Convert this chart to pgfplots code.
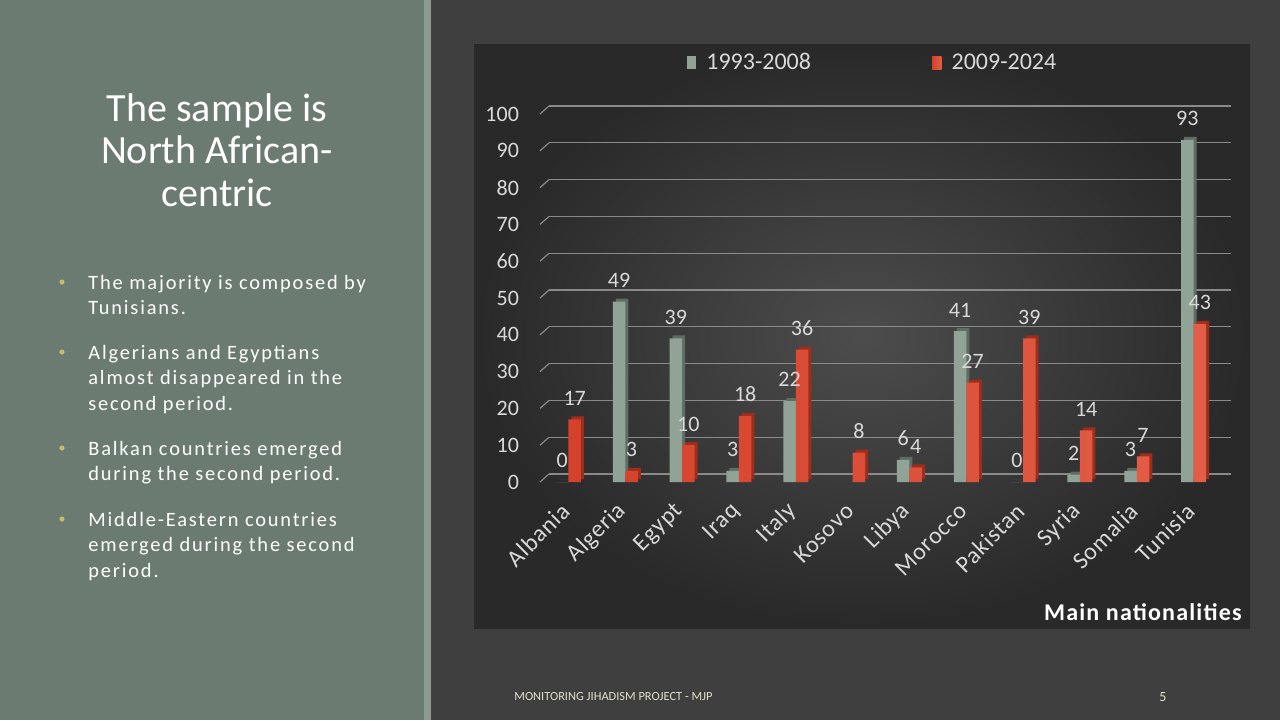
\documentclass[border=0pt]{standalone}
\usepackage{fontspec}
\setmainfont{Carlito}
\usepackage{pgfplots}
\pgfplotsset{compat=1.18}
\definecolor{panel}{HTML}{6B7B71}
\definecolor{strip}{HTML}{8C9B91}
\definecolor{slide}{HTML}{3F3F3F}
\definecolor{gbar}{HTML}{90A396}
\definecolor{gside}{HTML}{5F6E64}
\definecolor{rbar}{HTML}{D5412A}
\definecolor{rbarl}{HTML}{E25E48}
\definecolor{rside}{HTML}{9E2D1B}
\definecolor{txt}{HTML}{D9D9D9}
\definecolor{bulletc}{HTML}{C2BD6C}
\definecolor{gridc}{HTML}{8A8A8A}
\definecolor{foot}{HTML}{E4E2C8}
\begin{document}
\begin{tikzpicture}[x=0.5pt,y=0.5pt]
\fill[slide] (0,0) rectangle (1280,-720);
\fill[panel] (0,0) rectangle (424,-720);
\fill[strip] (424,0) rectangle (431,-720);
\shade[inner color=black!70, outer color=black!84] (474,-44) rectangle (1250,-628);
% title
\node[align=center, text=white, font=\fontsize{20}{21.25}\selectfont] at (217,-150) {The sample is\\North African-\\centric};
% bullets
\foreach \yy in {282,352,448,519} {\fill[bulletc] (62,-\yy) circle (2.6);}
\begin{scope}[every node/.style={anchor=north west, inner sep=0pt, text=white, align=left, font=\fontsize{10.2}{12.7}\selectfont\addfontfeature{LetterSpace=9}}]
\node at (88,-275) {The majority is composed by\\Tunisians.};
\node at (88,-345) {Algerians and Egyptians\\almost disappeared in the\\second period.};
\node at (88,-441) {Balkan countries emerged\\during the second period.};
\node at (88,-512) {Middle-Eastern countries\\emerged during the second\\period.};
\end{scope}
\node[anchor=east, inner sep=0pt, text=white, font=\bfseries\fontsize{12}{13}\selectfont\addfontfeature{LetterSpace=5}] at (1242,-612) {Main nationalities};
\node[anchor=west, inner sep=0pt, text=foot, font=\fontsize{6.2}{8}\selectfont] at (514,-697) {MONITORING JIHADISM PROJECT - MJP};
\node[text=foot, font=\fontsize{7}{8}\selectfont] at (1163,-697) {5};
\begin{axis}[
  at={(270pt,-241pt)}, anchor=south west, scale only axis,
  width=341pt, height=184pt,
  xmin=-0.5, xmax=11.5, ymin=0, ymax=100,
  ytick={0,10,...,100}, xtick={0,...,11},
  xticklabels={Albania,Algeria,Egypt,Iraq,Italy,Kosovo,Libya,Morocco,Pakistan,Syria,Somalia,Tunisia},
  ymajorgrids, major grid style={gridc, line width=0.6pt, xshift=4.5pt, yshift=4pt},
  axis line style={draw=none}, major tick length=0pt,
  /pgf/number format/assume math mode=true,
  tick label style={text=txt, font=\fontsize{11}{13}\selectfont},
  yticklabel style={xshift=-7pt},
  xticklabel style={rotate=45, anchor=east, xshift=-6.5pt, yshift=-8pt, font=\fontsize{12}{13}\selectfont\addfontfeature{LetterSpace=3}},
  ybar, bar width=6.25pt,
  clip=false,
  every node near coord/.append style={text=txt, font=\fontsize{11}{13}\selectfont, yshift=3.5pt},
  legend style={at={(0.489,1.139)}, anchor=center, draw=none, fill=none, legend columns=2,
     text=txt, font=\fontsize{12}{13}\selectfont,
     /tikz/every odd column/.append style={column sep=3pt},
     /tikz/every even column/.append style={column sep=58.5pt}},
  legend image code/.code={\fill[#1] (0pt,-3.3pt) rectangle (4.8pt,3.3pt);},
]
\pgfplotsinvokeforeach{0,10,...,100}{\draw[gridc, line width=0.6pt] (axis cs:-0.5,#1) -- ++(4.5pt,4pt);}
\addplot[forget plot, fill=gside, draw=none, bar shift=-3.125pt, xshift=1.5pt, yshift=1.5pt]
  coordinates {(0,0)(1,49)(2,39)(3,3)(4,22)(6,6)(7,41)(8,0)(9,2)(10,3)(11,93)};
\addplot[forget plot, fill=rside, draw=none, bar shift=3.125pt, xshift=1.5pt, yshift=1.5pt]
  coordinates {(0,17)(1,3)(2,10)(3,18)(4,36)(5,8)(6,4)(7,27)(8,39)(9,14)(10,7)(11,43)};
\addplot[fill=gbar, draw=none, bar shift=-3.125pt, nodes near coords]
  coordinates {(0,0)(1,49)(2,39)(3,3)(4,22)(6,6)(7,41)(8,0)(9,2)(10,3)(11,93)};
\addlegendentry{1993-2008}
\addplot[draw=none, left color=rbar, right color=rbarl, bar shift=3.125pt, nodes near coords]
  coordinates {(0,17)(1,3)(2,10)(3,18)(4,36)(5,8)(6,4)(7,27)(8,39)(9,14)(10,7)(11,43)};
\addlegendentry{2009-2024}
\end{axis}
\end{tikzpicture}
\end{document}
